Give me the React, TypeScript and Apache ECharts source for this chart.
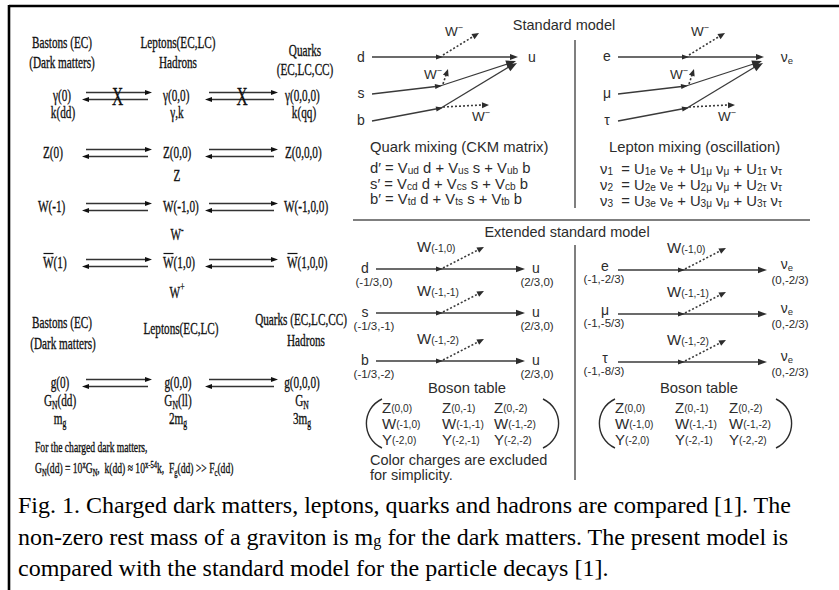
import React, { useEffect, useRef } from 'react';
import * as echarts from 'echarts';

const SERIF = '"Liberation Serif", "Times New Roman", "DejaVu Serif", serif';
const SANS = '"Liberation Sans", Arial, "DejaVu Sans", sans-serif';
const INK = '#111111';
const GREY = '#2c2c2c';
const LINEC = '#3a3a3a';

// ---------------- Left panel data ----------------
const headerA = [
  ['Bastons (EC)', '(Dark matters)'],
  ['Leptons(EC,LC)', 'Hadrons'],
  ['Quarks', '(EC,LC,CC)'],
];
const headerACx = [62, 178, 305];
const headerAY = [[42, 62], [42, 62], [50, 69]];

const bosonLabels = [
  ['γ(0)', 'γ(0,0)', 'γ(0,0,0)'],
  ['Z(0)', 'Z(0,0)', 'Z(0,0,0)'],
  ['W(-1)', 'W(-1,0)', 'W(-1,0,0)'],
  ['W(1)', 'W(1,0)', 'W(1,0,0)'],
];
const bosonStartX = [[53, 163, 285], [43, 163, 285], [38, 163, 284], [43, 163, 287]];
const bosonRowY = [95, 152, 206, 262];
const bosonSub = [
  ['k(dd)', 'γ,k', 'k(qq)'],
  ['', 'Z', ''],
  ['', 'W{sup|-}', ''],
  ['', 'W{sup|+}', ''],
];
const bosonSubCx = [63, 177, 304];
const bosonSubY = [112, 175, 234, 292];
const blockedRow = 0;
const barredRow = 3;

const headerB = [
  ['Bastons (EC)', '(Dark matters)'],
  ['Leptons(EC,LC)'],
  ['Quarks (EC,LC,CC)', 'Hadrons'],
];
const headerBCx = [[62, 63], [181], [301, 306]];
const headerBY = [[322, 343], [328], [319, 340]];

const gravitonLabels = [
  ['g(0)', 'g(0,0)', 'g(0,0,0)'],
  ['G{sub|N}(dd)', 'G{sub|N}(ll)', 'G{sub|N}'],
  ['m{sub|g}', '2m{sub|g}', '3m{sub|g}'],
];
const gravitonCx = [60, 178, 302];
const gravitonY = [382, 400, 418];
const noteLines = [
  'For the charged dark matters,',
  'G{sub|N}(dd) = 10{sup|x}G{sub|N},  k(dd) ≈ 10{sup|x-54}k,  F{sub|g}(dd) >> F{sub|c}(dd)',
];
const noteY = [447, 468];

// ---------------- Right panel data ----------------
const smTitle = 'Standard model';
const extTitle = 'Extended standard model';
const smQuarks = ['d', 's', 'b'];
const smLeptons = ['e', 'μ', 'τ'];
const smOutQuark = 'u';
const smOutLepton = 'ν{sub|e}';
const wMinus = 'W{sup|−}';
const ckmTitle = 'Quark mixing (CKM matrix)';
const ckmLines = [
  'd′ = V{sub|ud} d + V{sub|us} s + V{sub|ub} b',
  's′ = V{sub|cd} d + V{sub|cs} s + V{sub|cb} b',
  'b′ = V{sub|td} d + V{sub|ts} s + V{sub|tb} b',
];
const pmnsTitle = 'Lepton mixing (oscillation)';
const pmnsLines = [
  'ν{sub|1}  = U{sub|1e} ν{sub|e} + U{sub|1μ} ν{sub|μ} + U{sub|1τ} ν{sub|τ}',
  'ν{sub|2}  = U{sub|2e} ν{sub|e} + U{sub|2μ} ν{sub|μ} + U{sub|2τ} ν{sub|τ}',
  'ν{sub|3}  = U{sub|3e} ν{sub|e} + U{sub|3μ} ν{sub|μ} + U{sub|3τ} ν{sub|τ}',
];
const extQuarkCharges = ['(-1/3,0)', '(-1/3,-1)', '(-1/3,-2)'];
const extUpCharge = '(2/3,0)';
const extLeptonCharges = ['(-1,-2/3)', '(-1,-5/3)', '(-1,-8/3)'];
const extNuCharge = '(0,-2/3)';
const extW = ['(-1,0)', '(-1,-1)', '(-1,-2)'];
const bosonTableTitle = 'Boson table';
const bosonTable = [
  [['Z', '(0,0)'], ['Z', '(0,-1)'], ['Z', '(0,-2)']],
  [['W', '(-1,0)'], ['W', '(-1,-1)'], ['W', '(-1,-2)']],
  [['Y', '(-2,0)'], ['Y', '(-2,-1)'], ['Y', '(-2,-2)']],
];
const colorNote = ['Color charges are excluded', 'for simplicity.'];

const captionLines = [
  'Fig. 1. Charged dark matters, leptons, quarks and hadrons are compared [1]. The',
  'non-zero rest mass of a graviton is m{sub|g} for the dark matters. The present model is',
  'compared with the standard model for the particle decays [1].',
];
const captionY = [505, 537, 568];

// ---------------- helpers ----------------
function rich(family: string, size: number, fill: string, subK: number, stroke: any, lw: number) {
  const s = Math.round(size * 0.68 * 10) / 10;
  return {
    sub: { fontFamily: family, fontSize: s, fill, stroke, lineWidth: lw, padding: [Math.round(size * subK), 0, 0, 0] },
    sup: { fontFamily: family, fontSize: s, fill, stroke, lineWidth: lw, padding: [0, 0, Math.round(size * 0.55), 0] },
  };
}

function text(x: number, y: number, t: string, o: any = {}) {
  const family = o.family ?? SANS;
  const size = o.size ?? 14;
  const fill = o.fill ?? GREY;
  const align = o.align ?? 'center';
  const stroke = o.stroke ?? null;
  const lw = o.lw ?? 0;
  return {
    type: 'text',
    x,
    y,
    scaleX: o.sx ?? 1,
    z: 10,
    silent: true,
    style: {
      text: t,
      x: 0,
      y: 0,
      fill,
      stroke,
      lineWidth: lw,
      fontSize: size,
      fontFamily: family,
      align,
      textAlign: align,
      verticalAlign: 'middle',
      textVerticalAlign: 'middle',
      rich: rich(family, size, fill, o.subK ?? 0.45, stroke, lw),
    },
  };
}
const serif = (x: number, y: number, t: string, o: any = {}) =>
  text(x, y, t, { family: SERIF, size: 17.5, sx: 0.64, fill: INK, subK: 0.5, stroke: INK, lw: 0.35, ...o });

function line(x1: number, y1: number, x2: number, y2: number, o: any = {}) {
  return {
    type: 'line',
    silent: true,
    shape: { x1, y1, x2, y2 },
    style: { stroke: o.c ?? LINEC, lineWidth: o.w ?? 1.3, lineDash: o.dash ?? null },
  };
}
function head(tx: number, ty: number, fx: number, fy: number, len = 8, hw = 3, c = GREY) {
  const dx = tx - fx;
  const dy = ty - fy;
  const d = Math.hypot(dx, dy) || 1;
  const ux = dx / d;
  const uy = dy / d;
  const bx = tx - ux * len;
  const by = ty - uy * len;
  return {
    type: 'polygon',
    silent: true,
    shape: { points: [[tx, ty], [bx - uy * hw, by + ux * hw], [bx + uy * hw, by - ux * hw]] },
    style: { fill: c },
  };
}
function paren(xEnd: number, xBelly: number, y1: number, y2: number) {
  return {
    type: 'bezierCurve',
    silent: true,
    shape: {
      x1: xEnd, y1, x2: xEnd, y2,
      cpx1: xBelly - (xEnd - xBelly) * 0.3, cpy1: y1 + (y2 - y1) * 0.2,
      cpx2: xBelly - (xEnd - xBelly) * 0.3, cpy2: y1 + (y2 - y1) * 0.8,
    },
    style: { stroke: GREY, lineWidth: 1.4, fill: null },
  };
}
function doubleArrow(el: any[], a: number, b: number, ay: number) {
  el.push(line(a + 4, ay - 3.5, b - 4, ay - 3.5, { w: 1.4, c: '#333' }));
  el.push(head(b, ay - 3.5, a, ay - 3.5, 7, 2.6, '#111'));
  el.push(line(a + 4, ay + 3.5, b - 4, ay + 3.5, { w: 1.4, c: '#333' }));
  el.push(head(a, ay + 3.5, b, ay + 3.5, 7, 2.6, '#111'));
}

function buildElements() {
  const el: any[] = [];
  // frame
  el.push(line(9, 6, 839, 6, { w: 2.6, c: '#000' }));
  el.push(line(9, 5, 9, 590, { w: 2.6, c: '#000' }));

  // ---------- left panel ----------
  headerA.forEach((ls, i) => ls.forEach((t, j) => el.push(serif(headerACx[i], headerAY[i][j], t))));
  bosonLabels.forEach((row, r) => {
    row.forEach((t, c) => {
      el.push(serif(bosonStartX[r][c], bosonRowY[r], t, { align: 'left' }));
      if (r === barredRow) {
        const sx = bosonStartX[r][c];
        el.push(line(sx + 0.5, bosonRowY[r] - 8.5, sx + 10.5, bosonRowY[r] - 8.5, { w: 1.2, c: INK }));
      }
      if (bosonSub[r][c]) el.push(serif(bosonSubCx[c], bosonSubY[r], bosonSub[r][c]));
    });
    const ay = bosonRowY[r] + 1;
    [[82, 152], [205, 278]].forEach(([a, b]) => {
      doubleArrow(el, a, b, ay);
      if (r === blockedRow) el.push(serif((a + b) / 2 + 0.5, ay, 'X', { size: 25, sx: 0.62 }));
    });
  });

  headerB.forEach((ls, i) => ls.forEach((t, j) => el.push(serif(headerBCx[i][j], headerBY[i][j], t))));
  gravitonLabels.forEach((row, r) =>
    row.forEach((t, c) => el.push(serif(gravitonCx[c], gravitonY[r], t)))
  );
  [[82, 152], [205, 278]].forEach(([a, b]) => doubleArrow(el, a, b, gravitonY[0] + 1));
  noteLines.forEach((t, i) => el.push(serif(35, noteY[i], t, { align: 'left', size: 15 })));

  // ---------- right panel: standard model ----------
  el.push(text(564, 25, smTitle, { size: 14.5 }));
  el.push(line(575, 40, 575, 208, { w: 1.5, c: '#555' }));
  el.push(line(353, 220, 810, 220, { w: 1.5, c: '#555' }));
  el.push(text(567, 232, extTitle, { size: 14.5 }));
  el.push(line(575, 245, 575, 480, { w: 1.5, c: '#555' }));

  const smY = [57, 93, 120];
  const vtx = [[441, 57], [440, 86], [441, 108]];
  const tip = [[518, 57], [516, 61], [517, 63]];
  [0, 246].forEach((dx, side) => {
    const names = side === 0 ? smQuarks : smLeptons;
    names.forEach((n, i) => {
      el.push(text(361 + dx, smY[i] - (side === 1 && i === 0 ? 1 : 0), n, { size: 14 }));
      const sx0 = 372 + dx;
      const sy0 = smY[i] + (i === 0 ? 0 : 1);
      const vx = vtx[i][0] + dx;
      const vy = vtx[i][1];
      const tx = tip[i][0] + dx;
      const ty = tip[i][1];
      el.push(line(sx0, sy0, vx, vy));
      el.push(line(vx, vy, tx - 4, ty + (i === 0 ? 0 : 1.5)));
      el.push(head(vx + 2, vy - (i === 0 ? 0 : 0.3), sx0, sy0, 7, 2.6));
      el.push(head(tx, ty, vx, vy, i === 0 ? 8 : 10, i === 0 ? 3 : 3.8));
    });
    el.push(text(side === 0 ? 532 : 787, 57, side === 0 ? smOutQuark : smOutLepton, { size: 14 }));
    // W- emissions
    el.push(line(443 + dx, 55, 474 + dx, 36, { dash: [2, 2], w: 1.6 }));
    el.push(head(479 + dx, 33, 443 + dx, 55, 7, 3));
    el.push(text(454 + dx, 31, wMinus, { size: 13.5 }));
    el.push(line(443 + dx, 84, 446 + dx, 75, { dash: [2, 2], w: 1.6 }));
    el.push(head(448 + dx, 69, 443 + dx, 84, 7, 3));
    el.push(text(433 + dx, 74, wMinus, { size: 13.5 }));
    el.push(line(443 + dx, 107, 482 + dx, 105, { dash: [2, 2], w: 1.6 }));
    el.push(head(489 + dx, 105, 443 + dx, 106, 7, 3));
    el.push(text(481 + dx, 116, wMinus, { size: 13.5 }));
  });

  el.push(text(370, 147, ckmTitle, { size: 14.8, align: 'left' }));
  ckmLines.forEach((t, i) => el.push(text(370, 168 + i * 15.5, t, { size: 14.8, align: 'left', subK: 0.35 })));
  el.push(text(609, 147, pmnsTitle, { size: 14.8, align: 'left' }));
  pmnsLines.forEach((t, i) => el.push(text(600, 169 + i * 16, t, { size: 14.8, align: 'left', subK: 0.35 })));

  // ---------- extended standard model ----------
  const exY = [269, 313, 361];
  [0, 242].forEach((dx, side) => {
    exY.forEach((y, i) => {
      const ly = side === 0 ? y : y + 1;
      const startX = 376 + dx;
      const endX = 525 + dx;
      const vx = 441 + dx;
      el.push(line(startX, ly, endX - 6, ly));
      el.push(head(vx + 2, ly, startX, ly, 7, 2.6));
      el.push(head(endX, ly, startX, ly, 9, 3.2));
      if (side === 0) {
        el.push(text(365, y - 1, smQuarks[i], { size: 14 }));
        el.push(text(374, y + 13, extQuarkCharges[i], { size: 11.5 }));
        el.push(text(536, y - 1, smOutQuark, { size: 14 }));
        el.push(text(537, y + 13, extUpCharge, { size: 11.5 }));
      } else {
        el.push(text(605, ly - 4, smLeptons[i], { size: 14 }));
        el.push(text(604, ly + 9, extLeptonCharges[i], { size: 11.5 }));
        el.push(text(787, ly - 6, smOutLepton, { size: 14 }));
        el.push(text(790, ly + 10, extNuCharge, { size: 11.5 }));
      }
      // W emission
      el.push(line(vx + 2, ly - 1, vx + 37, ly - 19, { dash: [2, 2], w: 1.6 }));
      el.push(head(vx + 43, ly - 22, vx + 2, ly - 1, 7, 3));
      el.push(text(417 + dx + (side === 1 ? 8 : 0), ly - 23, 'W{sub|' + extW[i] + '}', { size: 15, align: 'left', subK: 0.3 }));
    });
    // boson table
    const cx = side === 0 ? 467 : 699;
    el.push(text(cx, 388, bosonTableTitle, { size: 14.8 }));
    const cols = side === 0 ? [382, 442, 494] : [615, 675, 729];
    const rowsY = [407, 423, 439];
    bosonTable.forEach((row, r) =>
      row.forEach(([b, q], c) =>
        el.push(text(cols[c], rowsY[r], b + '{sub|' + q + '}', { size: 15, align: 'left', subK: 0.2 }))
      )
    );
    const lp = side === 0 ? [382, 366] : [615, 599];
    const rp = side === 0 ? [543, 559] : [776, 792];
    el.push(paren(lp[0], lp[1], 399, 448));
    el.push(paren(rp[0], rp[1], 399, 448));
  });
  colorNote.forEach((t, i) => el.push(text(370, 460 + i * 15, t, { size: 14.5, align: 'left' })));

  // ---------- caption ----------
  captionLines.forEach((t, i) =>
    el.push(text(18, captionY[i], t, { family: SERIF, size: 24, fill: '#000', align: 'left', subK: 0.3 }))
  );
  return el;
}

export default function App() {
  const ref = useRef<HTMLDivElement>(null);
  useEffect(() => {
    if (!ref.current) return;
    const chart = echarts.init(ref.current, null, { renderer: 'svg' });
    chart.setOption({
      animation: false,
      backgroundColor: '#ffffff',
      graphic: { elements: buildElements() },
    });
    return () => chart.dispose();
  }, []);
  return (
    <div
      ref={ref}
      style={{ position: 'absolute', left: 0, top: 0, width: 839, height: 590, background: '#fff' }}
    />
  );
}
